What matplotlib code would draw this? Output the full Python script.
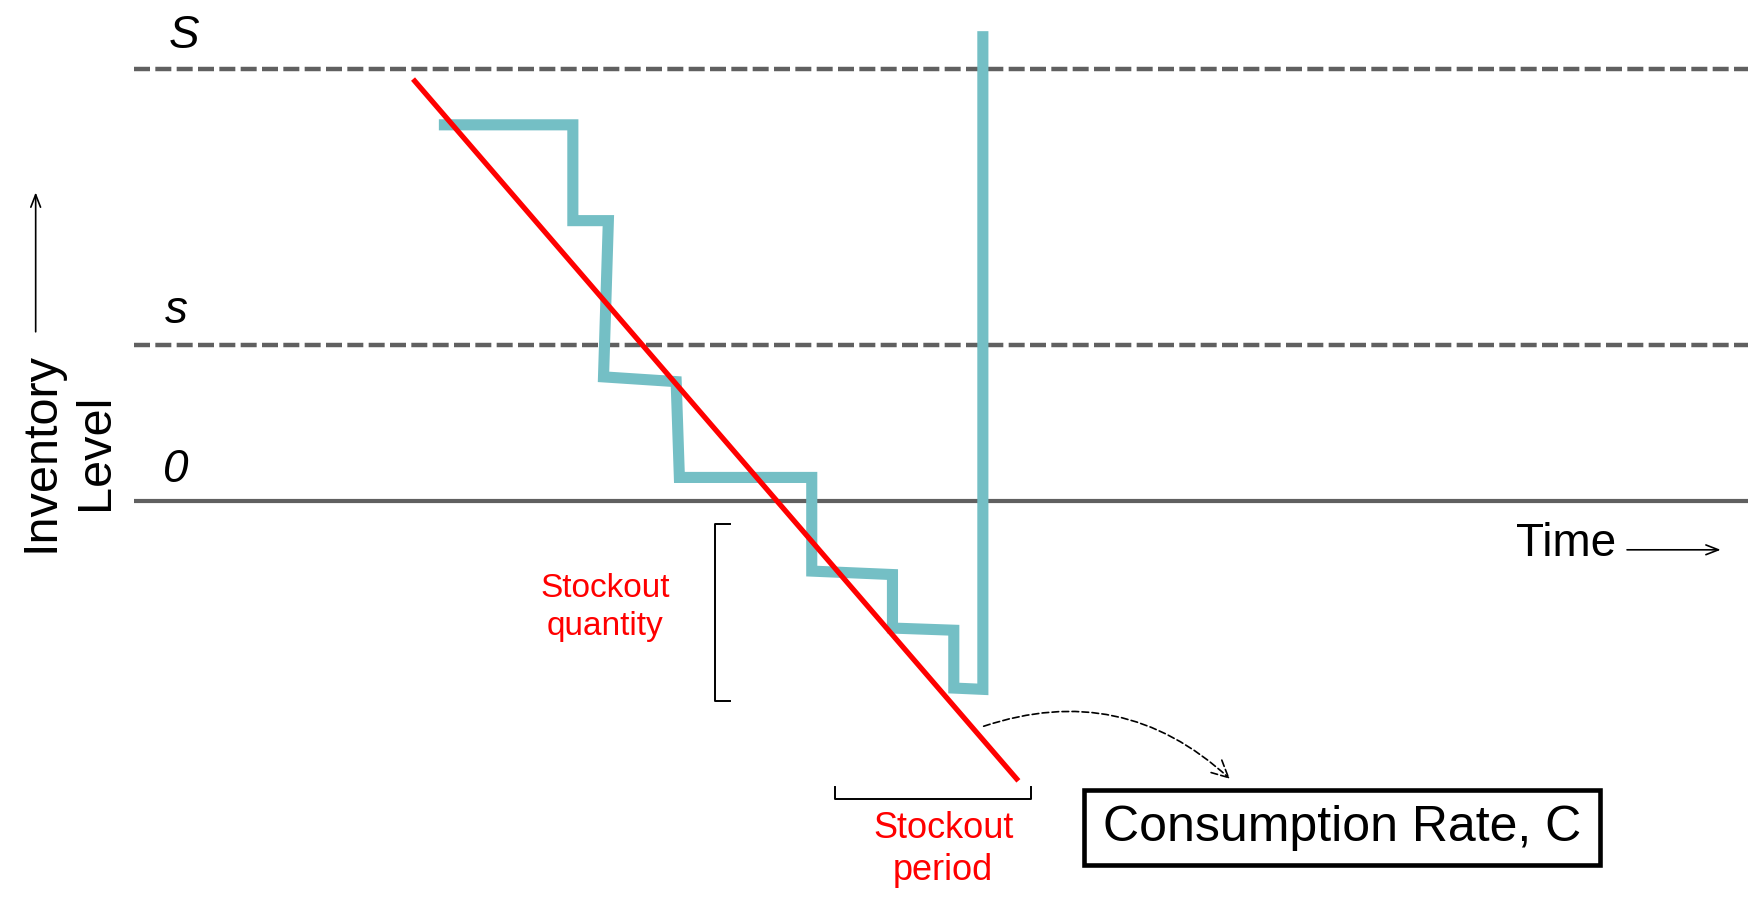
import matplotlib
matplotlib.use("Agg")
import matplotlib.pyplot as plt
from matplotlib.patches import Rectangle, FancyArrowPatch

plt.rcParams['font.family'] = ['Liberation Sans', 'DejaVu Sans']

# ---- data (time units 0..100, inventory units with S = 100) ----
levels = {"S": 100.0, "s": 36.0, "0": 0.0}
inv_time = [18.9, 27.2, 27.2, 29.4, 29.1, 33.6, 33.8, 42.0, 42.0, 47.0, 47.0, 50.8, 50.8, 52.6, 52.6]
inv_level = [87.1, 87.1, 64.9, 64.9, 28.7, 27.6, 5.4, 5.4, -16.3, -17.1, -29.5, -30.0, -43.4, -43.7, 108.8]
rate_time = [17.3, 54.8]
rate_level = [97.7, -64.9]

# helpers to place annotations (reference pixel grid 1568x807)
def X(px):
    return (px - 120) / 14.48

def Y(py):
    return (449 - py) / 3.87

fig = plt.figure(figsize=(17.48, 9.0), dpi=100)
ax = fig.add_axes([0, 0, 1, 1])
ax.set_xlim(X(0), X(1568))
ax.set_ylim(Y(807), Y(0))
ax.axis("off")

grey = "#606060"
# level lines
ax.plot([0, 100], [levels["S"]] * 2, color=grey, lw=3.2, dashes=(3.6, 1.2), solid_capstyle="butt")
ax.plot([0, 100], [levels["s"]] * 2, color=grey, lw=3.2, dashes=(3.6, 1.2), solid_capstyle="butt")
ax.plot([0, 100], [levels["0"]] * 2, color=grey, lw=3.0, solid_capstyle="butt")

# level labels
ax.text(X(165), Y(43), "S", fontsize=33, style="italic", ha="center", va="baseline")
ax.text(X(158), Y(290), "s", fontsize=33, style="italic", ha="center", va="baseline")
ax.text(X(158), Y(432), "0", fontsize=33, style="italic", ha="center", va="baseline")

# inventory path
ax.plot(inv_time, inv_level, color="#74BFC5", lw=8.0, solid_joinstyle="miter", solid_capstyle="butt")
# consumption rate line
ax.plot(rate_time, rate_level, color="#FF0000", lw=3.8, solid_capstyle="butt")

# axis captions
ax.text(X(61), Y(405), "Inventory\nLevel", fontsize=35, rotation=90, ha="center", va="center",
        linespacing=1.27)
ax.annotate("", xy=(X(32), Y(170)), xytext=(X(32), Y(300)),
            arrowprops=dict(arrowstyle="->,head_length=0.9,head_width=0.35", lw=1.2, color="black"))
ax.text(X(1405), Y(488), "Time", fontsize=33, ha="center", va="center")
ax.annotate("", xy=(X(1546), Y(493)), xytext=(X(1457), Y(493)),
            arrowprops=dict(arrowstyle="->,head_length=0.9,head_width=0.35", lw=1.2, color="black"))

# stockout quantity bracket
ax.plot([X(655), X(641), X(641), X(655)], [Y(470), Y(470), Y(629), Y(629)], color="black", lw=1.4)
ax.text(X(543), Y(545), "Stockout\nquantity", fontsize=24, color="#FF0000", ha="center", va="center",
        linespacing=1.3)

# stockout period bracket
ax.plot([X(749), X(749), X(925), X(925)], [Y(706), Y(716), Y(716), Y(706)], color="black", lw=1.4)
ax.text(X(846), Y(762), "Stockout\nperiod", fontsize=26, color="#FF0000", ha="center", va="center",
        linespacing=1.25)

# consumption rate box
ax.add_patch(Rectangle((X(972), Y(776)), X(1435) - X(972), Y(708) - Y(776), fill=False,
                       edgecolor="black", lw=3.3, joinstyle="miter"))
ax.text(X(1204), Y(742), "Consumption Rate, C", fontsize=36, ha="center", va="center")

# curved dashed pointer
arr = FancyArrowPatch((X(880), Y(652)), (X(1105), Y(700)), connectionstyle="arc3,rad=-0.3",
                      arrowstyle="->,head_length=8,head_width=4", lw=1.2, linestyle=(0, (4, 2)),
                      color="black", mutation_scale=1.5)
ax.add_patch(arr)

fig.savefig("out.png", dpi=100)
